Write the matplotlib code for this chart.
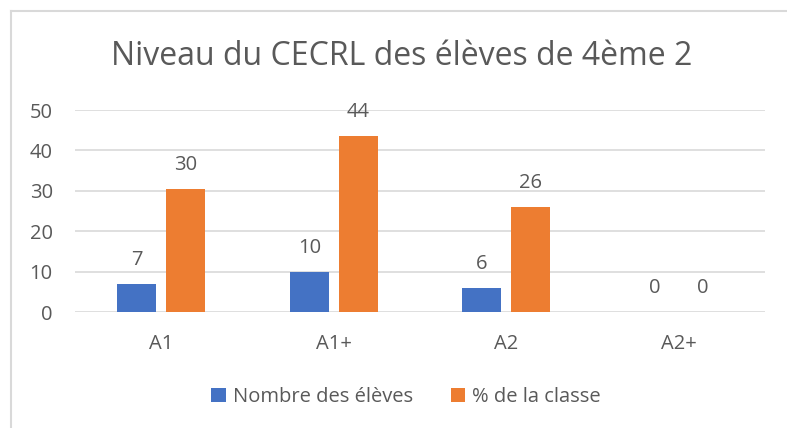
"""Excel-style grouped bar chart: CECRL level of class 4e2."""

import matplotlib

matplotlib.use("Agg")
import matplotlib.pyplot as plt
import numpy as np
from matplotlib.lines import Line2D

levels = ["A1", "A1+", "A2", "A2+"]
nb_eleves = [7, 10, 6, 0]
pct_classe = [30.4, 43.5, 26.1, 0]
pct_labels = ["30", "44", "26", "0"]

BLUE = "#4472C4"
ORANGE = "#ED7D31"
GREY = "#595959"
GRID = "#D9D9D9"
FS = 14.5

plt.rcParams["font.family"] = ["Open Sans", "DejaVu Sans"]

fig = plt.figure(figsize=(7.87, 4.28), dpi=100)
ax = fig.add_axes([75 / 787, 1 - 312 / 428, 690 / 787, 202 / 428])

x = np.arange(len(levels))
w = 0.226
off = 0.142
b1 = ax.bar(x - off, nb_eleves, w, color=BLUE, label="Nombre des élèves", zorder=3)
b2 = ax.bar(x + off, pct_classe, w, color=ORANGE, label="% de la classe", zorder=3)

for rect, v in zip(b1, nb_eleves):
    ax.annotate(str(v), (rect.get_x() + rect.get_width() / 2, rect.get_height()),
                xytext=(0, 10), textcoords="offset points", ha="center", va="bottom",
                fontsize=FS, color=GREY)
for rect, lab in zip(b2, pct_labels):
    ax.annotate(lab, (rect.get_x() + rect.get_width() / 2, rect.get_height()),
                xytext=(0, 10), textcoords="offset points", ha="center", va="bottom",
                fontsize=FS, color=GREY)

ax.set_xlim(-0.5, len(levels) - 0.5)
ax.set_ylim(0, 50)
ax.set_yticks(range(0, 51, 10))
ax.set_xticks(x)
ax.set_xticklabels(levels)
ax.tick_params(axis="both", length=0, labelsize=FS, labelcolor=GREY)
ax.tick_params(axis="y", pad=16)
ax.tick_params(axis="x", pad=16)
ax.yaxis.grid(True, color=GRID, linewidth=1.2, zorder=0)
ax.set_axisbelow(True)
for s in ax.spines.values():
    s.set_visible(False)

fig.text(0.51, 1 - 57 / 428, "Niveau du CECRL des élèves de 4ème 2",
         ha="center", va="center", fontsize=23, color=GREY)

fig.legend(handles=[b1, b2], loc="center", bbox_to_anchor=(0.516, 1 - 397 / 428),
           ncol=2, frameon=False, fontsize=FS, labelcolor=GREY,
           handlelength=0.7, handleheight=0.7, handletextpad=0.35, columnspacing=1.9)

# chart frame (only left and top edges visible in the crop)
fig.add_artist(Line2D([11 / 787, 11 / 787], [0, 1 - 11 / 428], color=GRID, linewidth=1.5))
fig.add_artist(Line2D([11 / 787, 1], [1 - 11 / 428, 1 - 11 / 428], color=GRID, linewidth=1.5))

fig.savefig("out.png", dpi=100)
